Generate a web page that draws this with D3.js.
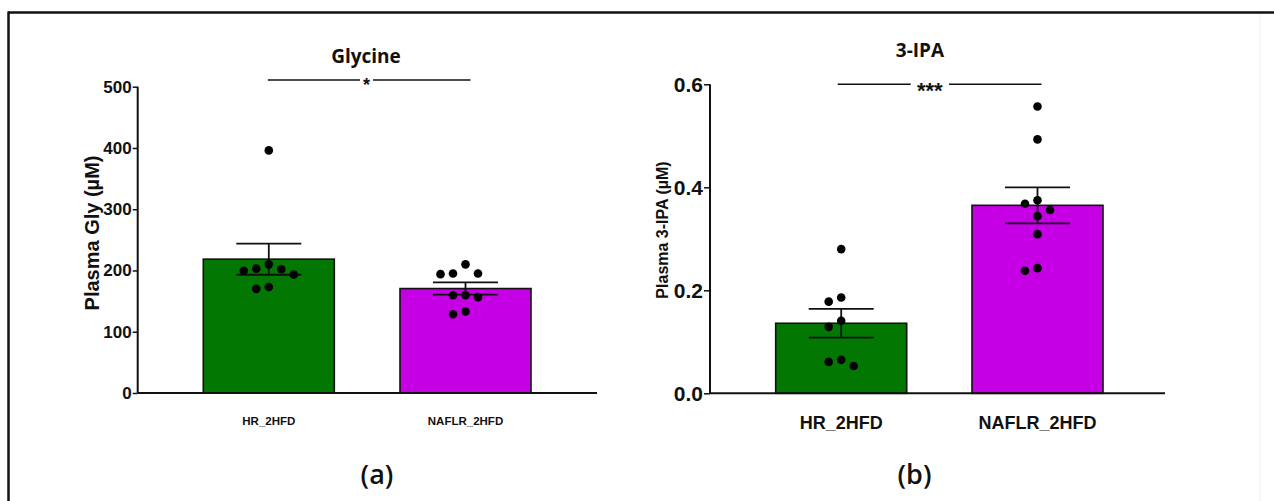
<!DOCTYPE html>
<html>
<head>
<meta charset="utf-8">
<script src="https://cdn.jsdelivr.net/npm/d3@7"></script>
<style>
    body { margin: 0; background: #fff; }
    svg { display: block; }
</style>
</head>
<body>
<div id="chart"></div>
<script>
// groups shared by both panels
const groups = ["HR_2HFD", "NAFLR_2HFD"];
const barColors = ["#027802", "#c600e4"];

// panel (a) glycine, µM
const glyMean = [218.5, 170.5];
const glySem = [25.5, 10];
const glyPoints = [
    [396, 203, 199.5, 193.5, 202, 210, 170, 173],
    [195, 194, 195, 210, 159.5, 156.5, 159.5, 128.5, 133]
];
const glyTicks = [0, 100, 200, 300, 400, 500];

// panel (b) 3-IPA, µM
const ipaMean = [0.136, 0.365];
const ipaSem = [0.028, 0.035];
const ipaPoints = [
    [0.280, 0.178, 0.186, 0.141, 0.129, 0.065, 0.053, 0.061],
    [0.557, 0.493, 0.375, 0.368, 0.356, 0.344, 0.309, 0.238, 0.243]
];
const ipaTicks = [0.0, 0.2, 0.4, 0.6];

const W = 1274, H = 501;
const svg = d3.select("#chart").append("svg")
    .attr("width", W)
    .attr("height", H);

// frame lines
svg.append("line")
    .attr("x1", 8).attr("x2", W).attr("y1", 12.5).attr("y2", 12.5)
    .attr("stroke", "#111").attr("stroke-width", 2.5);
svg.append("line")
    .attr("x1", 8.5).attr("x2", 8.5).attr("y1", 11.5).attr("y2", H)
    .attr("stroke", "#111").attr("stroke-width", 2.5);
svg.append("line")
    .attr("x1", 1260).attr("x2", 1260).attr("y1", 14).attr("y2", H)
    .attr("stroke", "#f0f0f0").attr("stroke-width", 1);

// simple beeswarm offsets so dots don't overlap
function swarm(values, y, minDist) {
    let placed = [];
    let out = values.map(() => 0);
    let order = values.map((v, i) => i).sort((a, b) => values[b] - values[a]);
    order.forEach(i => {
        let py = y(values[i]);
        let step = minDist / 2;
        for (let k = 0; k < 40; k++) {
            let cands = k === 0 ? [0] : [-k * step, k * step];
            let ok = null;
            for (let c of cands) {
                let hit = placed.some(p => Math.hypot(p.x - c, p.y - py) < minDist);
                if (!hit) { ok = c; break; }
            }
            if (ok !== null) {
                out[i] = ok;
                placed.push({x: ok, y: py});
                break;
            }
        }
    });
    return out;
}

function drawPanel(cfg) {
    let g = svg.append("g");

    let y = d3.scaleLinear().domain(cfg.domain).range([cfg.y0, cfg.y1]);
    let x = d3.scalePoint().domain(groups).range(cfg.centers);

    // y axis
    let yAxis = d3.axisLeft(y)
        .tickValues(cfg.ticks)
        .tickFormat(cfg.fmt)
        .tickSize(cfg.tickLen)
        .tickPadding(1);
    let ya = g.append("g")
        .attr("transform", `translate(${cfg.axisX},0)`)
        .call(yAxis);
    ya.select(".domain").attr("stroke", "#111").attr("stroke-width", 2)
        .attr("d", `M0,${cfg.y0}V${cfg.y1}`);
    ya.selectAll(".tick line").attr("stroke", "#111").attr("stroke-width", 1.5);
    ya.selectAll(".tick text")
        .attr("font-family", "Liberation Sans, Arial, sans-serif")
        .attr("font-weight", 700)
        .attr("font-size", cfg.tickFont + "px")
        .attr("fill", "#111");

    // bars
    g.selectAll(".bar")
        .data(cfg.mean)
        .enter()
        .append("rect")
        .attr("class", "bar")
        .attr("x", (d, i) => x(groups[i]) - cfg.barW / 2)
        .attr("y", d => y(d))
        .attr("width", cfg.barW)
        .attr("height", d => y(0) - y(d))
        .attr("fill", (d, i) => barColors[i])
        .attr("stroke", "#111")
        .attr("stroke-width", 1.6);

    // x axis baseline
    g.append("line")
        .attr("x1", cfg.axisX).attr("x2", cfg.axisEnd)
        .attr("y1", y(0)).attr("y2", y(0))
        .attr("stroke", "#111").attr("stroke-width", 2);

    // error bars (mean ± SEM)
    cfg.mean.forEach((m, i) => {
        let cx = x(groups[i]);
        let lo = y(m - cfg.sem[i]), hi = y(m + cfg.sem[i]);
        g.append("line")
            .attr("x1", cx).attr("x2", cx).attr("y1", lo).attr("y2", hi)
            .attr("stroke", "#111").attr("stroke-width", 1.8);
        [lo, hi].forEach(yy => {
            g.append("line")
                .attr("x1", cx - cfg.capW / 2).attr("x2", cx + cfg.capW / 2)
                .attr("y1", yy).attr("y2", yy)
                .attr("stroke", "#111").attr("stroke-width", 1.8);
        });
    });

    // individual points
    cfg.points.forEach((vals, i) => {
        let offs = swarm(vals, y, 12.5);
        g.selectAll(".dot" + i)
            .data(vals)
            .enter()
            .append("circle")
            .attr("cx", (d, j) => x(groups[i]) + offs[j])
            .attr("cy", d => y(d))
            .attr("r", 4.3)
            .attr("fill", "#000");
    });

    // group labels
    g.selectAll(".cat")
        .data(groups)
        .enter()
        .append("text")
        .attr("x", d => x(d))
        .attr("y", cfg.catY)
        .attr("text-anchor", "middle")
        .attr("font-family", "Liberation Sans, Arial, sans-serif")
        .attr("font-weight", 700)
        .attr("font-size", cfg.catFont + "px")
        .attr("fill", "#111")
        .text(d => d);

    // y label
    g.append("text")
        .attr("transform", `translate(${cfg.labelX},${cfg.labelY}) rotate(-90)`)
        .attr("text-anchor", "middle")
        .attr("font-family", "Liberation Sans, Arial, sans-serif")
        .attr("font-weight", 700)
        .attr("font-size", cfg.labelFont + "px")
        .attr("fill", "#111")
        .text(cfg.label);

    // title
    g.append("text")
        .attr("x", cfg.titleX).attr("y", cfg.titleY)
        .attr("text-anchor", "middle")
        .attr("font-family", "Open Sans, sans-serif")
        .attr("font-weight", 700)
        .attr("font-size", "19px")
        .attr("fill", "#111")
        .text(cfg.title);

    // significance line
    let x1 = x(groups[0]) + cfg.sigPad[0], x2 = x(groups[1]) + cfg.sigPad[1];
    g.append("line")
        .attr("x1", x1).attr("x2", cfg.gap[0]).attr("y1", cfg.sigY).attr("y2", cfg.sigY)
        .attr("stroke", "#111").attr("stroke-width", 1.5);
    g.append("line")
        .attr("x1", cfg.gap[1]).attr("x2", x2).attr("y1", cfg.sigY).attr("y2", cfg.sigY)
        .attr("stroke", "#111").attr("stroke-width", 1.5);
    g.append("text")
        .attr("x", (cfg.gap[0] + cfg.gap[1]) / 2)
        .attr("y", cfg.sigY + cfg.starFont * 0.62)
        .attr("text-anchor", "middle")
        .attr("font-family", "Liberation Sans, Arial, sans-serif")
        .attr("font-weight", 700)
        .attr("font-size", cfg.starFont + "px")
        .attr("fill", "#111")
        .text(cfg.sig);

    // panel letter
    g.append("text")
        .attr("x", cfg.letterX).attr("y", 484)
        .attr("text-anchor", "middle")
        .attr("font-family", "Open Sans, sans-serif")
        .attr("font-weight", 600)
        .attr("font-size", "27px")
        .attr("fill", "#111")
        .text(cfg.letter);
}

drawPanel({
    domain: [0, 500], y0: 393, y1: 86.7,
    centers: [268.8, 465.5], barW: 131, capW: 65,
    axisX: 137.7, axisEnd: 597, tickLen: 5, tickFont: 17,
    ticks: glyTicks, fmt: d3.format("d"),
    mean: glyMean, sem: glySem, points: glyPoints,
    catY: 425, catFont: 11.5,
    label: "Plasma Gly (µM)", labelX: 99, labelY: 233, labelFont: 20,
    title: "Glycine", titleX: 366, titleY: 63,
    sigY: 80, sigPad: [-1, 5], gap: [360, 373], sig: "*", starFont: 18,
    letter: "(a)", letterX: 377
});

drawPanel({
    domain: [0, 0.6], y0: 393.3, y1: 84.3,
    centers: [841.2, 1037.5], barW: 131, capW: 65,
    axisX: 710, axisEnd: 1165, tickLen: 6, tickFont: 21,
    ticks: ipaTicks, fmt: d3.format(".1f"),
    mean: ipaMean, sem: ipaSem, points: ipaPoints,
    catY: 429, catFont: 18,
    label: "Plasma 3-IPA (µM)", labelX: 668, labelY: 230, labelFont: 16,
    title: "3-IPA", titleX: 920, titleY: 57,
    sigY: 84.3, sigPad: [-3.5, 4], gap: [910.7, 949], sig: "***", starFont: 22,
    letter: "(b)", letterX: 914.5
});
</script>
</body>
</html>
